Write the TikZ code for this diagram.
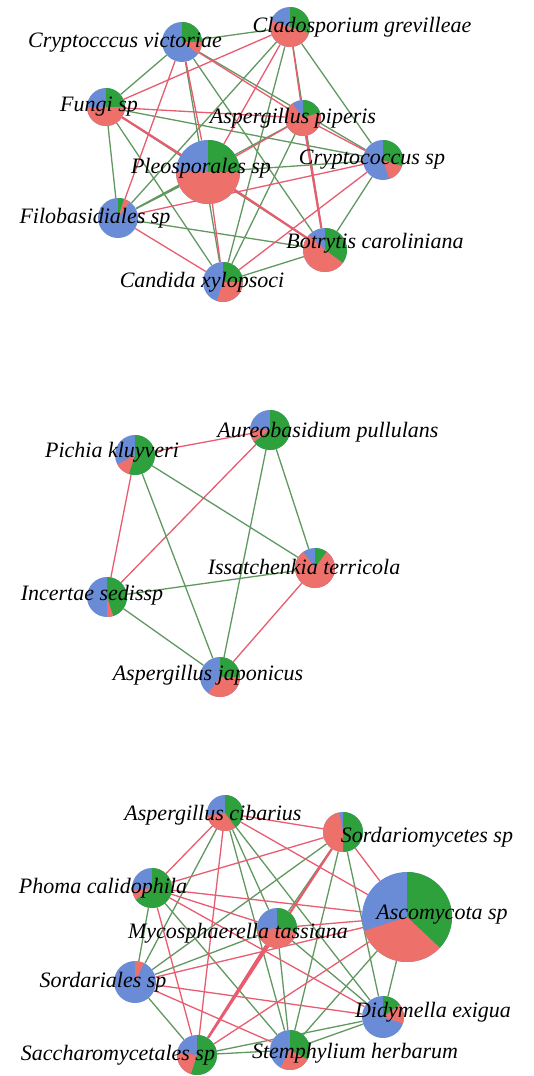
\documentclass[tikz,border=0pt]{standalone}
\usepackage{fontspec}
\setmainfont{Liberation Serif}
\usepackage{xcolor}
\usepackage{tikz}
\usetikzlibrary{positioning, calc}
\definecolor{pieblue}{RGB}{106, 140, 214}
\definecolor{piegreen}{RGB}{46, 160, 60}
\definecolor{piered}{RGB}{238, 112, 106}
\definecolor{linkgreen}{RGB}{96, 152, 96}
\definecolor{linkred}{RGB}{232, 92, 112}

% pie at a node: name, radius, green share, red share (rest is blue)
\newcommand{\piechart}[4]{%
  \fill[pieblue] (#1.center) circle[radius=#2];
  \fill[piegreen] (#1.center) -- ++(90:#2) arc[start angle=90, delta angle={-360*#3}, radius=#2] -- cycle;
  \fill[piered] (#1.center) -- ++({90-360*#3}:#2) arc[start angle={90-360*#3}, delta angle={-360*#4}, radius=#2] -- cycle;
}

\begin{document}
\begin{tikzpicture}[x=1pt, y=1pt,
    hub/.style={circle, inner sep=0pt, minimum size=#1},
    lab/.style={font=\fontsize{22}{26}\selectfont\itshape, inner sep=0pt},
    gline/.style={linkgreen, line width=1.3pt},
    rline/.style={linkred, line width=1.3pt},
    rthick/.style={rline, line width=2.2pt}
]
    \useasboundingbox (0,0) rectangle (534,-1076);

    % First network
    \node[hub=40pt] (cv) at (182,-42) {};
    \node[hub=40pt] (cg) at (290,-27) {};
    \node[hub=38pt] (fs) at (106,-107) {};
    \node[hub=36pt] (ap) at (303,-118) {};
    \node[hub=40pt] (cs) at (383,-160) {};
    \node[hub=64pt] (ps) at (208,-172) {};
    \node[hub=40pt] (fb) at (118,-218) {};
    \node[hub=44pt] (bc) at (325,-250) {};
    \node[hub=40pt] (cx) at (223,-282) {};

    % Second network
    \node[hub=40pt] (pk) at (135,-455) {};
    \node[hub=40pt] (au) at (270,-430) {};
    \node[hub=40pt] (it) at (315,-568) {};
    \node[hub=40pt] (is) at (107,-597) {};
    \node[hub=40pt] (aj) at (220,-677) {};

    % Third network
    \node[hub=36pt] (ac) at (225,-813) {};
    \node[hub=40pt] (sm) at (343,-832) {};
    \node[hub=40pt] (pc) at (152,-888) {};
    \node[hub=90pt] (as) at (407,-917) {};
    \node[hub=40pt] (mt) at (277,-928) {};
    \node[hub=42pt] (ss) at (135,-982) {};
    \node[hub=42pt] (de) at (383,-1017) {};
    \node[hub=40pt] (sa) at (197,-1055) {};
    \node[hub=40pt] (sh) at (290,-1050) {};

    % Links, first network
    \draw[gline] (cv) -- (cg) (cv) -- (fs) (cv) -- (bc) (cv) -- (cs) (cv) -- (cx);
    \draw[gline] (cg) -- (cs) (cg) -- (fb) (cg) -- (cx) (cg) -- (bc);
    \draw[gline] (fs) -- (cs) (fs) -- (fb) (fs) -- (cx) (fs) -- (bc);
    \draw[gline] (ap) -- (fb) (ap) -- (cx) (ps) -- (fb) (cs) -- (bc);
    \draw[gline] (fb) -- (bc) (bc) -- (cx) (ps) -- (cs);
    \draw[rline] (cv) -- (fb) (cv) -- (ap) (cv) -- (ps);
    \draw[rline] (cg) -- (fs) (cg) -- (ap) (cg) -- (ps);
    \draw[rline] (fs) -- (ap) (ap) -- (cs) (ap) -- (ps) (ps) -- (cx);
    \draw[rline] (cs) -- (cx) (cs) -- (fb) (fb) -- (cx);
    \draw[rthick] (fs) -- (ps) (ap) -- (bc) (ps) -- (bc);

    % Links, second network
    \draw[rline] (pk) -- (au) (pk) -- (is) (au) -- (is) (it) -- (aj);
    \draw[gline] (pk) -- (it) (pk) -- (aj) (au) -- (it) (au) -- (aj);
    \draw[gline] (is) -- (it) (is) -- (aj);

    % Links, third network
    \draw[gline] (ac) -- (ss) (ac) -- (mt) (ac) -- (sh) (ac) -- (de);
    \draw[gline] (sm) -- (ss) (sm) -- (mt) (sm) -- (sh) (sm) -- (de);
    \draw[gline] (pc) -- (ss) (pc) -- (sh) (as) -- (de) (as) -- (sh);
    \draw[gline] (mt) -- (ss) (mt) -- (sh) (mt) -- (de);
    \draw[gline] (ss) -- (sa) (sa) -- (sh) (sa) -- (de) (sh) -- (de);
    \draw[rline] (ac) -- (pc) (ac) -- (sa) (ac) -- (as) (ac) -- (sm);
    \draw[rline] (sm) -- (pc) (sm) -- (as);
    \draw[rline] (pc) -- (as) (pc) -- (mt) (pc) -- (sa) (pc) -- (de);
    \draw[rline] (as) -- (mt) (as) -- (ss) (as) -- (sa);
    \draw[rline] (ss) -- (sh) (ss) -- (de);
    \draw[rthick] (sm) -- (sa) (mt) -- (sa);

    % Pies
    \piechart{cv}{20pt}{0.25}{0.10}
    \piechart{cg}{20pt}{0.30}{0.50}
    \piechart{fs}{19pt}{0.25}{0.50}
    \piechart{ap}{18pt}{0.20}{0.70}
    \piechart{cs}{20pt}{0.30}{0.15}
    \piechart{ps}{32pt}{0.25}{0.50}
    \piechart{fb}{20pt}{0.05}{0.05}
    \piechart{bc}{22pt}{0.35}{0.52}
    \piechart{cx}{20pt}{0.25}{0.30}

    \piechart{pk}{20pt}{0.55}{0.12}
    \piechart{au}{20pt}{0.65}{0.10}
    \piechart{it}{20pt}{0.10}{0.80}
    \piechart{is}{20pt}{0.45}{0.05}
    \piechart{aj}{20pt}{0.25}{0.35}

    \piechart{ac}{18pt}{0.40}{0.33}
    \piechart{sm}{20pt}{0.50}{0.47}
    \piechart{pc}{20pt}{0.65}{0.08}
    \piechart{as}{45pt}{0.37}{0.33}
    \piechart{mt}{20pt}{0.28}{0.45}
    \piechart{ss}{21pt}{0.00}{0.07}
    \piechart{de}{21pt}{0.15}{0.15}
    \piechart{sa}{20pt}{0.55}{0.22}
    \piechart{sh}{20pt}{0.33}{0.25}

    % Names
    \node[lab] (cv-t) at (125,-43) {Cryptocccus victoriae};
    \node[lab] (cg-t) at (362,-27) {Cladosporium grevilleae};
    \node[lab] (fs-t) at (99,-107) {Fungi sp};
    \node[lab] (ap-t) at (293,-118) {Aspergillus piperis};
    \node[lab] (cs-t) at (372,-160) {Cryptococcus sp};
    \node[lab] (ps-t) at (201,-168) {Pleosporales sp};
    \node[lab] (fb-t) at (95,-218) {Filobasidiales sp};
    \node[lab] (bc-t) at (375,-243) {Botrytis caroliniana};
    \node[lab] (cx-t) at (202,-282) {Candida xylopsoci};

    \node[lab] (pk-t) at (112,-452) {Pichia kluyveri};
    \node[lab] (au-t) at (328,-432) {Aureobasidium pullulans};
    \node[lab] (it-t) at (304,-567) {Issatchenkia terricola};
    \node[lab] (is-t) at (92,-595) {Incertae sedissp};
    \node[lab] (aj-t) at (208,-675) {Aspergillus japonicus};

    \node[lab] (ac-t) at (213,-815) {Aspergillus cibarius};
    \node[lab] (sm-t) at (427,-837) {Sordariomycetes sp};
    \node[lab] (pc-t) at (103,-888) {Phoma calidophila};
    \node[lab] (as-t) at (442,-915) {Ascomycota sp};
    \node[lab] (mt-t) at (238,-933) {Mycosphaerella tassiana};
    \node[lab] (ss-t) at (103,-982) {Sordariales sp};
    \node[lab] (de-t) at (433,-1012) {Didymella exigua};
    \node[lab] (sa-t) at (118,-1055) {Saccharomycetales sp};
    \node[lab] (sh-t) at (355,-1053) {Stemphylium herbarum};
\end{tikzpicture}
\end{document}
